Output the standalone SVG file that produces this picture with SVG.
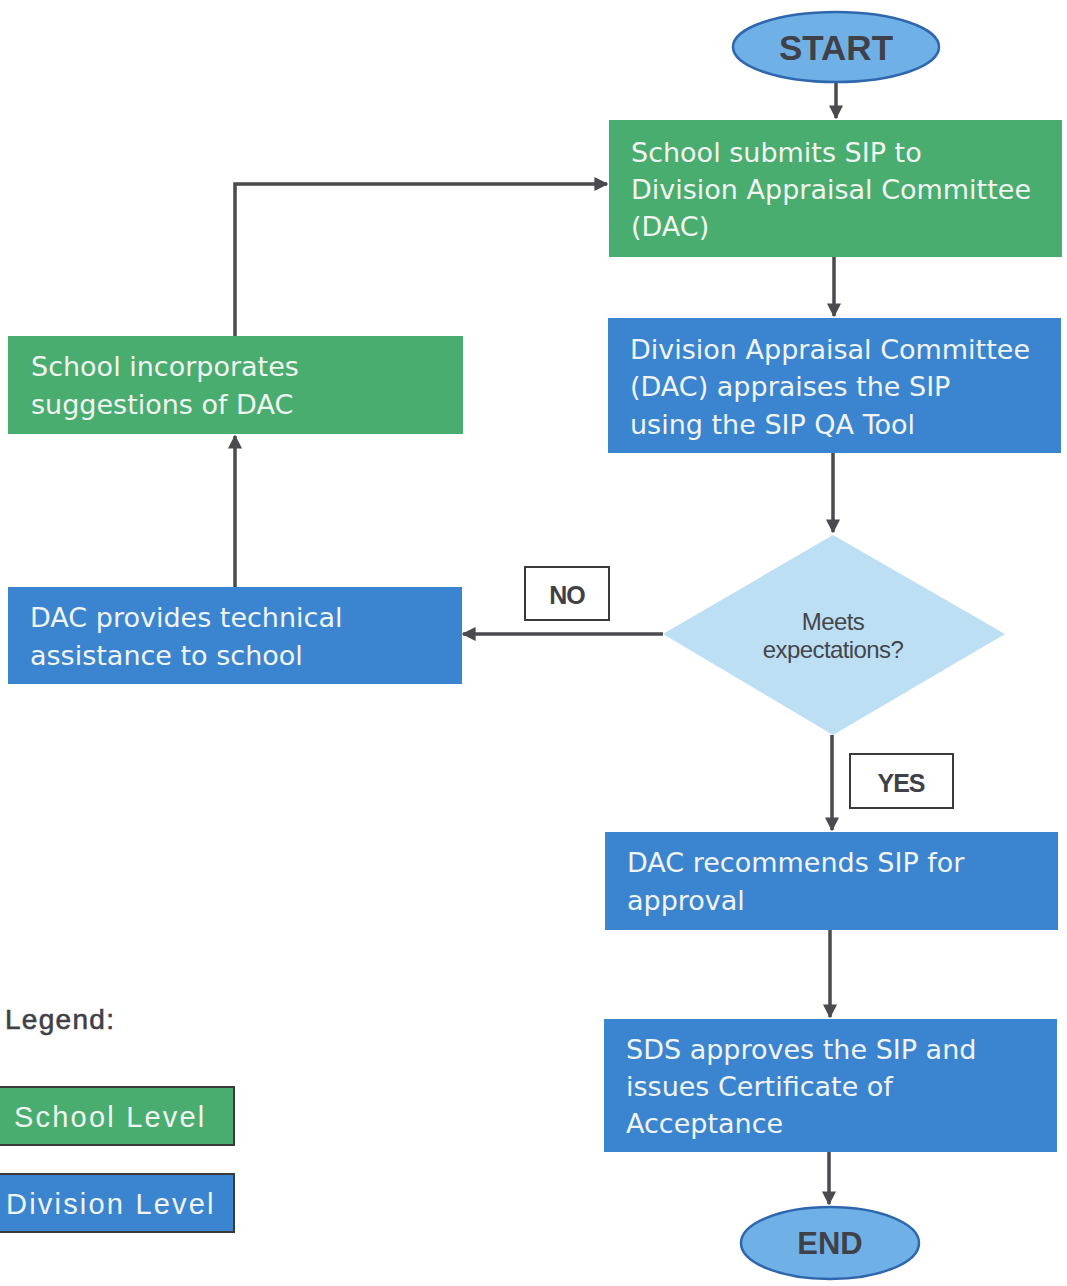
<svg xmlns="http://www.w3.org/2000/svg" width="1067" height="1286" viewBox="0 0 1067 1286">
<defs>
<marker id="ah" viewBox="0 0 10 10" refX="9" refY="5" markerWidth="4" markerHeight="4" orient="auto" markerUnits="strokeWidth">
<path d="M0,0 L10,5 L0,10 z" fill="#4a4a4f"/>
</marker>
<style>
.green{fill:#4aad70}
.blue{fill:#3b85d0}
.bt{font-family:"DejaVu Sans",Verdana,sans-serif;font-size:27px;fill:#f2f4f2}
.term{fill:#6fb1e6;stroke:#2e67ad;stroke-width:2.5}
.tt{font-family:"Liberation Sans",Arial,sans-serif;font-weight:bold;font-size:31px;fill:#404048;text-anchor:middle}
.tts{font-size:35px}
.con{fill:none;stroke:#4a4a4f;stroke-width:3.5}
.lbl{fill:#fff;stroke:#3a3a3a;stroke-width:2}
.lt{font-family:"Liberation Sans",Arial,sans-serif;font-weight:bold;font-size:25px;fill:#404048;text-anchor:middle;letter-spacing:-1px}
.leg{font-family:"Liberation Sans",Arial,sans-serif;font-size:29px;fill:#f2f4f2;letter-spacing:2.2px}
.dt{font-family:"Liberation Sans",Arial,sans-serif;font-size:24px;fill:#45454c;text-anchor:middle;letter-spacing:-0.6px}
.lg{font-family:"Liberation Sans",Arial,sans-serif;font-size:28px;fill:#404048;stroke:#404048;stroke-width:0.6px;letter-spacing:1.3px}
</style>
</defs>
<rect width="1067" height="1286" fill="#ffffff"/>

<g id="connectors">
<line class="con" x1="836" y1="83" x2="836" y2="118" marker-end="url(#ah)"/>
<line class="con" x1="834" y1="257" x2="834" y2="316" marker-end="url(#ah)"/>
<line class="con" x1="833" y1="453" x2="833" y2="532" marker-end="url(#ah)"/>
<line class="con" x1="663" y1="634" x2="463" y2="634" marker-end="url(#ah)"/>
<line class="con" x1="235" y1="587" x2="235" y2="436" marker-end="url(#ah)"/>
<polyline class="con" points="235,336 235,184 607,184" marker-end="url(#ah)"/>
<line class="con" x1="832" y1="735" x2="832" y2="830" marker-end="url(#ah)"/>
<line class="con" x1="830" y1="930" x2="830" y2="1017" marker-end="url(#ah)"/>
<line class="con" x1="829" y1="1152" x2="829" y2="1204" marker-end="url(#ah)"/>
</g>

<g id="start">
<ellipse class="term" cx="836" cy="47" rx="103" ry="35"/>
<text class="tt tts" x="836" y="60">START</text>
</g>

<g id="submit">
<rect class="green" x="609" y="120" width="453" height="137"/>
<text class="bt" x="631" y="162">School submits SIP to</text>
<text class="bt" x="631" y="199">Division Appraisal Committee</text>
<text class="bt" x="631" y="236">(DAC)</text>
</g>

<g id="appraise">
<rect class="blue" x="608" y="318" width="453" height="135"/>
<text class="bt" x="630" y="359">Division Appraisal Committee</text>
<text class="bt" x="630" y="396">(DAC) appraises the SIP</text>
<text class="bt" x="630" y="434">using the SIP QA Tool</text>
</g>

<g id="decision">
<polygon points="833,535 1005,634 833,735 663,634" fill="#bcdff3"/>
<text class="dt" x="833" y="630">Meets</text>
<text class="dt" x="833" y="658">expectations?</text>
</g>

<g id="no">
<rect class="lbl" x="525" y="567" width="84" height="53"/>
<text class="lt" x="567" y="604">NO</text>
</g>

<g id="assist">
<rect class="blue" x="8" y="587" width="454" height="97"/>
<text class="bt" x="30" y="627">DAC provides technical</text>
<text class="bt" x="30" y="665">assistance to school</text>
</g>

<g id="incorporate">
<rect class="green" x="8" y="336" width="455" height="98"/>
<text class="bt" x="31" y="376">School incorporates</text>
<text class="bt" x="31" y="414">suggestions of DAC</text>
</g>

<g id="yes">
<rect class="lbl" x="850" y="754" width="103" height="54"/>
<text class="lt" x="901" y="792">YES</text>
</g>

<g id="recommend">
<rect class="blue" x="605" y="832" width="453" height="98"/>
<text class="bt" x="627" y="872">DAC recommends SIP for</text>
<text class="bt" x="627" y="910">approval</text>
</g>

<g id="approve">
<rect class="blue" x="604" y="1019" width="453" height="133"/>
<text class="bt" x="626" y="1059">SDS approves the SIP and</text>
<text class="bt" x="626" y="1096">issues Certificate of</text>
<text class="bt" x="626" y="1133">Acceptance</text>
</g>

<g id="end">
<ellipse class="term" cx="830" cy="1243" rx="89" ry="36"/>
<text class="tt" x="830" y="1254">END</text>
</g>

<g id="legend">
<text class="lg" x="5" y="1029">Legend:</text>
<rect x="-2" y="1087" width="236" height="58" fill="#4aad70" stroke="#3a3a3a" stroke-width="2"/>
<text class="leg" x="14" y="1127">School Level</text>
<rect x="-2" y="1174" width="236" height="58" fill="#3b85d0" stroke="#3a3a3a" stroke-width="2"/>
<text class="leg" x="6" y="1214">Division Level</text>
</g>
</svg>
